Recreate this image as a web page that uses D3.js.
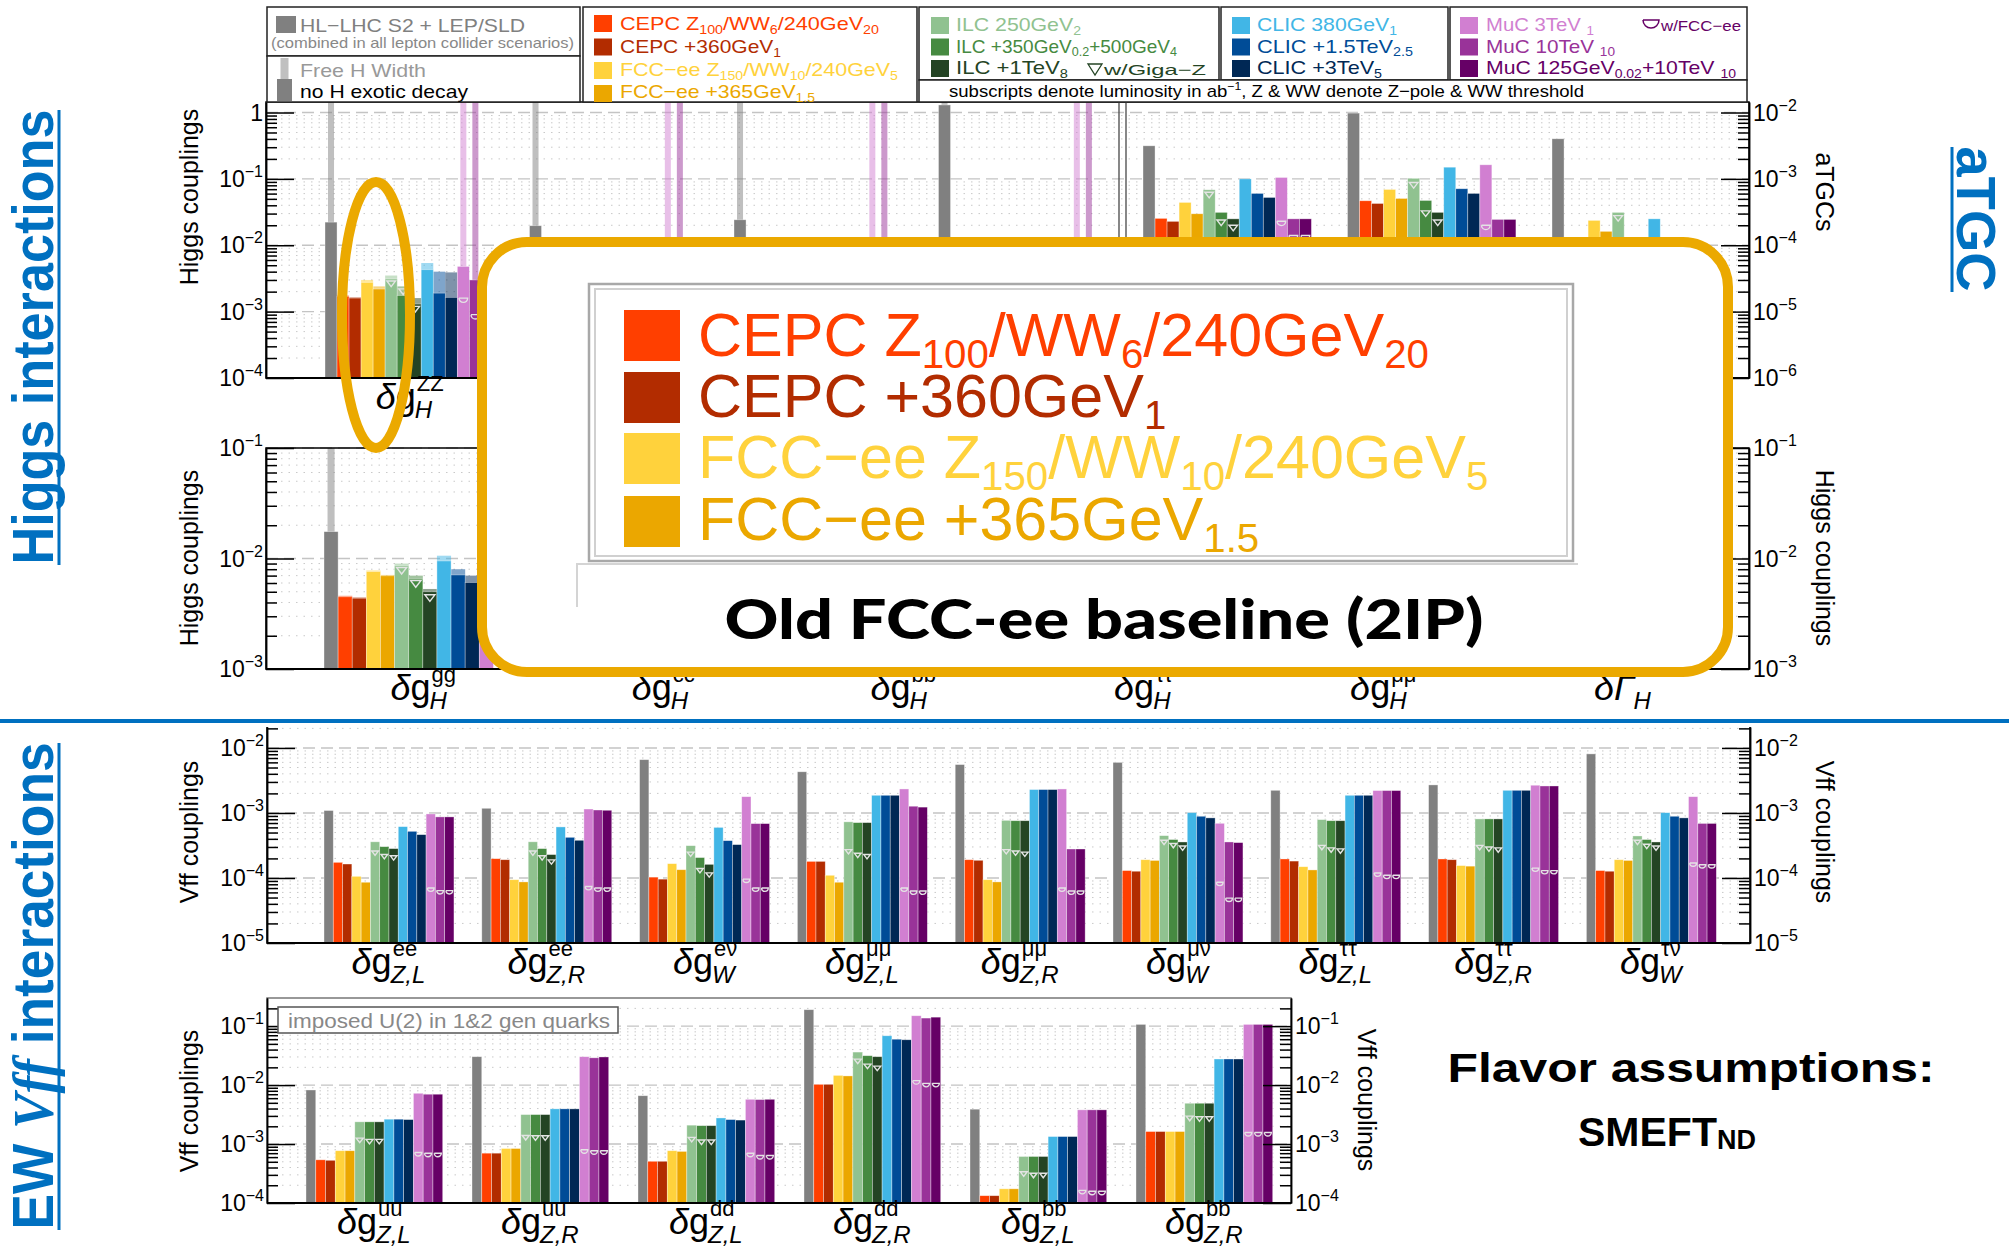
<!DOCTYPE html>
<meta charset="utf-8">
<script src="https://d3js.org/d3.v7.min.js"></script>
<style>
  body { margin: 0; background: #fff; }
  svg { display: block; }
</style>
<body>
<div id="chart"></div>
<script>
var _ = null;

// ---------- series (one bar per collider scenario, same order in every group) ----------
var seriesColors = ["#808080", "#ff3f00", "#b22c00", "#ffd23c", "#eba700", "#90c290", "#468a41", "#244424",
                    "#41b6e6", "#004c97", "#002855", "#d17fd1", "#993399", "#660066"];
var legendLabels = [
  [["HL−LHC S2 + LEP/SLD"]],
  [["CEPC Z"], ["100", "sub"], ["/WW"], ["6", "sub"], ["/240GeV"], ["20", "sub"]],
  [["CEPC +360GeV"], ["1", "sub"]],
  [["FCC−ee Z"], ["150", "sub"], ["/WW"], ["10", "sub"], ["/240GeV"], ["5", "sub"]],
  [["FCC−ee +365GeV"], ["1.5", "sub"]],
  [["ILC 250GeV"], ["2", "sub"]],
  [["ILC +350GeV"], ["0.2", "sub"], ["+500GeV"], ["4", "sub"]],
  [["ILC +1TeV"], ["8", "sub"]],
  [["CLIC 380GeV"], ["1", "sub"]],
  [["CLIC +1.5TeV"], ["2.5", "sub"]],
  [["CLIC +3TeV"], ["5", "sub"]],
  [["MuC 3TeV "], ["1", "sub"]],
  [["MuC 10TeV "], ["10", "sub"]],
  [["MuC 125GeV"], ["0.02", "sub"], ["+10TeV "], ["10", "sub"]]
];

// ---------- panel 1 : Higgs couplings (left axis) + aTGCs (right axis) ----------
var hig1Labels = [["δg", "ZZ", "H"], ["δg", "WW", "H"], ["δg", "γγ", "H"], ["δg", "Zγ", "H"],
                  ["δg", "", "1,Z"], ["δκ", "", "γ"], ["λ", "", "Z"]];
var hig1Solid = [
  [2.23e-2, 1.7e-3, 1.6e-3, 2.76e-3, 2.19e-3, 3.1e-3, 1.75e-3, 1.3e-3, 4.28e-3, 1.9e-3, 1.64e-3, 4.8e-3, 3.0e-3, 3.0e-3],
  [1.97e-2, _, _, _, _, _, _, _, _, _, _, _, _, _],
  [2.42e-2, _, _, _, _, _, _, _, 1.3e-2, _, _, _, _, _],
  [1.3, _, _, _, _, _, _, _, _, _, _, _, _, _],
  [3.15e-3, 2.54e-4, 2.29e-4, 4.42e-4, 2.98e-4, 6.85e-4, 3.13e-4, 2.5e-4, 1.0e-3, 6.04e-4, 5.25e-4, 1.05e-3, 2.5e-4, 2.5e-4],
  [9.8e-3, 4.68e-4, 4.26e-4, 6.93e-4, 5.07e-4, 1.02e-3, 4.73e-4, 3.13e-4, 1.5e-3, 7.1e-4, 6.04e-4, 1.63e-3, 2.45e-4, 2.45e-4],
  [4.02e-3, _, _, 2.37e-4, 1.62e-4, 3.13e-4, _, _, 2.5e-4, _, _, _, _, _]
];
// "Free H width" fits (lighter bars); the no-exotic-decay fits are the solid ones
var hig1Free = [
  [5, 1.75e-3, 1.65e-3, 3.0e-3, 2.4e-3, 3.5e-3, 2.4e-3, 1.6e-3, 5.4e-3, 4.0e-3, 3.9e-3, 5, 5, _],
  [5, _, _, _, _, _, _, _, _, _, _, 5, 5, _],
  [5, _, _, _, _, _, _, _, _, _, _, 5, 5, _],
  [5, _, _, _, _, _, _, _, _, _, _, 5, 5, _],
  [_, _, _, _, _, _, _, _, _, _, _, _, _, _],
  [_, _, _, _, _, _, _, _, _, _, _, _, _, _],
  [_, _, _, _, _, _, _, _, _, _, _, _, _, _]
];
var hig1GigaZ = [[2.9e-3, 2.2e-3, 1.2e-3], [_, _, _], [_, _, _], [_, _, _], [6.3e-4, 2.4e-4, 2.0e-4], [8.8e-4, 3.3e-4, 2.4e-4], [2.8e-4, _, _]];
var hig1WithFCC = [[1.6e-3, 9.0e-4, _], [_, _, _], [_, _, _], [_, _, _], [2.3e-4, 1.4e-4, 1.4e-4], [2.0e-4, _, _], [_, _, _]];

// ---------- panel 2 : Higgs couplings (most of it is covered by the overlay) ----------
var hig2Labels = [["δg", "gg", "H"], ["δg", "cc", "H"], ["δg", "bb", "H"], ["δg", "ττ", "H"], ["δg", "μμ", "H"], ["δΓ", "", "H"]];
var hig2Solid = [
  [1.75e-2, 4.5e-3, 4.37e-3, 7.6e-3, 6.97e-3, 8.6e-3, 6.5e-3, 5.0e-3, 9.5e-3, 7.1e-3, 6.06e-3, 5.5e-3, _, _],
  [_, _, _, _, _, _, _, _, _, _, _, _, _, _],
  [_, _, _, _, _, _, _, _, _, _, _, _, _, _],
  [_, _, _, _, _, _, _, _, _, _, _, _, _, _],
  [_, _, _, _, _, _, _, _, _, _, _, _, _, _],
  [_, _, _, _, _, _, _, _, _, _, _, _, _, _]
];
var hig2Free = [
  [0.2, 4.6e-3, 4.45e-3, 7.8e-3, 7.1e-3, 9.0e-3, 7.0e-3, 5.3e-3, 1.06e-2, 8.0e-3, 7.0e-3, _, _, _],
  [_, _, _, _, _, _, _, _, _, _, _, _, _, _],
  [_, _, _, _, _, _, _, _, _, _, _, _, _, _],
  [_, _, _, _, _, _, _, _, _, _, _, _, _, _],
  [_, _, _, _, _, _, _, _, _, _, _, _, _, _],
  [_, _, _, _, _, _, _, _, _, _, _, _, _, _]
];
var hig2GigaZ = [[8.3e-3, 6.3e-3, 4.7e-3], [_, _, _], [_, _, _], [_, _, _], [_, _, _], [_, _, _]];
var hig2WithFCC = [[_, _, _], [_, _, _], [_, _, _], [_, _, _], [_, _, _], [_, _, _]];

// ---------- panel 3 : Vff couplings, leptons ----------
var lepLabels = [["δg", "ee", "Z,L"], ["δg", "ee", "Z,R"], ["δg", "eν", "W"], ["δg", "μμ", "Z,L"], ["δg", "μμ", "Z,R"],
                 ["δg", "μν", "W"], ["δg", "ττ", "Z,L"], ["δg", "ττ", "Z,R"], ["δg", "τν", "W"]];
var lepSolid = [
  [1.09e-3, 1.74e-4, 1.64e-4, 1.06e-4, 8.6e-5, 3.6e-4, 3.03e-4, 2.83e-4, 6.16e-4, 5.22e-4, 4.64e-4, 9.66e-4, 8.7e-4, 8.7e-4],
  [1.18e-3, 1.98e-4, 1.91e-4, 9.4e-5, 8.7e-5, 3.6e-4, 2.83e-4, 2.29e-4, 6.1e-4, 4.22e-4, 3.8e-4, 1.15e-3, 1.11e-3, 1.1e-3],
  [6.6e-3, 1.03e-4, 9.6e-5, 1.66e-4, 1.34e-4, 3.14e-4, 2.06e-4, 1.62e-4, 6.0e-4, 3.75e-4, 3.26e-4, 1.78e-3, 6.86e-4, 6.86e-4],
  [4.3e-3, 1.8e-4, 1.8e-4, 1.1e-4, 8.6e-5, 7.3e-4, 7.1e-4, 7.1e-4, 1.87e-3, 1.87e-3, 1.87e-3, 2.34e-3, 1.27e-3, 1.23e-3],
  [5.55e-3, 1.91e-4, 1.87e-4, 9.4e-5, 8.7e-5, 7.7e-4, 7.6e-4, 7.6e-4, 2.29e-3, 2.29e-3, 2.29e-3, 2.34e-3, 2.79e-4, 2.79e-4],
  [6.0e-3, 1.3e-4, 1.27e-4, 1.91e-4, 1.86e-4, 4.48e-4, 3.9e-4, 3.58e-4, 1.01e-3, 8.9e-4, 8.4e-4, 6.93e-4, 3.58e-4, 3.5e-4],
  [2.23e-3, 1.96e-4, 1.82e-4, 1.49e-4, 1.33e-4, 7.9e-4, 7.6e-4, 7.6e-4, 1.87e-3, 1.87e-3, 1.87e-3, 2.21e-3, 2.21e-3, 2.21e-3],
  [2.7e-3, 1.96e-4, 1.91e-4, 1.55e-4, 1.52e-4, 8.1e-4, 8.1e-4, 8.1e-4, 2.23e-3, 2.23e-3, 2.23e-3, 2.67e-3, 2.6e-3, 2.6e-3],
  [8.1e-3, 1.3e-4, 1.27e-4, 1.91e-4, 1.86e-4, 4.43e-4, 3.9e-4, 3.58e-4, 1.01e-3, 8.9e-4, 8.4e-4, 1.78e-3, 6.9e-4, 6.9e-4]
];
var lepGigaZ = [[2.6e-4, 2.3e-4, 2.2e-4], [2.6e-4, 2.2e-4, 1.9e-4], [2.5e-4, 1.4e-4, 1.2e-4], [2.73e-4, 2.4e-4, 2.3e-4],
                [2.73e-4, 2.6e-4, 2.5e-4], [3.8e-4, 3.4e-4, 3.1e-4], [3.17e-4, 2.9e-4, 2.8e-4], [3.17e-4, 3.0e-4, 2.9e-4],
                [3.8e-4, 3.3e-4, 3.1e-4]];
var lepWithFCC = [[7.0e-5, 6.4e-5, 6.4e-5], [7.4e-5, 7.0e-5, 7.0e-5], [9.6e-5, 7.0e-5, 7.0e-5], [7.0e-5, 6.3e-5, 6.3e-5],
                  [7.0e-5, 6.3e-5, 6.3e-5], [8.6e-5, 4.9e-5, 4.9e-5], [1.19e-4, 1.1e-4, 1.1e-4], [1.42e-4, 1.3e-4, 1.3e-4],
                  [1.7e-4, 1.6e-4, 1.6e-4]];

// ---------- panel 4 : Vff couplings, quarks ----------
var qrkLabels = [["δg", "uu", "Z,L"], ["δg", "uu", "Z,R"], ["δg", "dd", "Z,L"], ["δg", "dd", "Z,R"], ["δg", "bb", "Z,L"], ["δg", "bb", "Z,R"]];
var qrkSolid = [
  [8.26e-3, 5.4e-4, 5.3e-4, 7.7e-4, 7.7e-4, 2.38e-3, 2.38e-3, 2.38e-3, 2.64e-3, 2.64e-3, 2.6e-3, 7.26e-3, 7.0e-3, 7.0e-3],
  [3.03e-2, 7.0e-4, 7.0e-4, 8.4e-4, 8.4e-4, 3.16e-3, 3.16e-3, 3.16e-3, 3.95e-3, 3.95e-3, 3.95e-3, 3.03e-2, 2.9e-2, 3.0e-2],
  [6.6e-3, 5.1e-4, 5.1e-4, 7.7e-4, 7.5e-4, 2.09e-3, 2.05e-3, 2.05e-3, 2.77e-3, 2.6e-3, 2.55e-3, 5.74e-3, 5.68e-3, 5.74e-3],
  [1.9e-1, 1.03e-2, 1.03e-2, 1.46e-2, 1.43e-2, 3.63e-2, 3.15e-2, 3.03e-2, 6.86e-2, 6.0e-2, 5.87e-2, 1.5e-1, 1.37e-1, 1.42e-1],
  [3.9e-3, 1.33e-4, 1.33e-4, 1.74e-4, 1.74e-4, 6.15e-4, 6.15e-4, 6.15e-4, 1.34e-3, 1.34e-3, 1.34e-3, 3.8e-3, 3.8e-3, 3.8e-3],
  [1.07e-1, 1.63e-3, 1.63e-3, 1.63e-3, 1.63e-3, 4.92e-3, 4.92e-3, 4.92e-3, 2.77e-2, 2.77e-2, 2.77e-2, 1.07e-1, 1.07e-1, 1.07e-1]
];
var qrkGigaZ = [[1.26e-3, 1.2e-3, 1.2e-3], [1.4e-3, 1.38e-3, 1.38e-3], [1.3e-3, 1.17e-3, 1.17e-3], [2.76e-2, 2.27e-2, 2.1e-2],
                [3.39e-4, 3.2e-4, 3.2e-4], [2.97e-3, 2.9e-3, 2.9e-3]];
var qrkWithFCC = [[7.2e-4, 7.0e-4, 7.0e-4], [8.0e-4, 7.7e-4, 7.7e-4], [7.0e-4, 6.4e-4, 6.4e-4], [1.19e-2, 1.07e-2, 1.07e-2],
                  [1.64e-4, 1.58e-4, 1.58e-4], [1.57e-3, 1.57e-3, 1.57e-3]];

// ====================================================================
var NARROW = '"Liberation Sans Narrow","Liberation Sans",Arial,sans-serif';
var SANS = '"Liberation Sans",Arial,sans-serif';
var BLUE = "#0070c0", ORANGE = "#eba900";

var svg = d3.select("#chart").append("svg")
    .attr("width", 2009).attr("height", 1247)
    .style("font-family", NARROW);

function decades(dom) {
  var out = [];
  for (var e = Math.ceil(Math.log10(dom[0]) - 1e-9); e <= Math.floor(Math.log10(dom[1]) + 1e-9); e++) out.push(Math.pow(10, e));
  return out;
}
function minors(dom) {
  var out = [];
  for (var e = Math.floor(Math.log10(dom[0])); e <= Math.floor(Math.log10(dom[1])); e++)
    for (var k = 2; k <= 9; k++) { var v = k * Math.pow(10, e); if (v > dom[0] && v < dom[1]) out.push(v); }
  return out;
}
// text with sub/superscript pieces
function rich(text, parts, fs) {
  var shift = 0;
  parts.forEach(function(p) {
    var t = text.append("tspan").text(p[0]);
    var target = p[1] === "sub" ? fs * 0.2 : p[1] === "sup" ? -fs * 0.42 : 0;
    if (target !== shift) { t.attr("dy", target - shift); shift = target; }
    if (p[1]) t.attr("font-size", fs * 0.66);
  });
  return text;
}
function powLabel(g, x, y, v, anchor) {
  var e = Math.round(Math.log10(v));
  var t = g.append("text").attr("x", x).attr("y", y + 8).attr("text-anchor", anchor).attr("font-size", 23);
  if (e === 0) t.text("1");
  else { t.append("tspan").text("10"); t.append("tspan").attr("dy", -10).attr("font-size", 16).text("−" + (-e)); }
}
function catLabel(cx, base, lab) {
  var grp = svg.append("g");
  var b = grp.append("text").attr("y", base).attr("font-size", 36);
  b.append("tspan").attr("font-style", "italic").text(lab[0].charAt(0));
  b.append("tspan").attr("font-style", lab[0].charAt(1) === "g" ? "normal" : "italic").text(lab[0].slice(1));
  var bw = b.node().getComputedTextLength();
  var sup = grp.append("text").attr("y", base - 18).attr("font-size", 22).text(lab[1]);
  var sub = grp.append("text").attr("y", base + 9).attr("font-size", 24).attr("font-style", "italic").text(lab[2]);
  var w = bw + Math.max(sup.node().getComputedTextLength(), sub.node().getComputedTextLength());
  var x0 = cx - w / 2;
  b.attr("x", x0); sup.attr("x", x0 + bw + 1); sub.attr("x", x0 + bw - 1);
}
function vTitle(x, y, txt, rot) {
  svg.append("text").attr("transform", "translate(" + x + "," + y + ") rotate(" + rot + ")")
     .attr("text-anchor", "middle").attr("font-size", 25).text(txt);
}

function drawPanel(p) {
  var n = p.labels.length, pad = 3 / 17, r0 = p.start - p.step * pad / 2;
  var x = d3.scaleBand().domain(d3.range(n)).range([r0, r0 + p.step * n]).paddingInner(pad).paddingOuter(pad / 2);
  var xi = d3.scaleBand().domain(d3.range(seriesColors.length)).range([0, x.bandwidth()]);
  var bw = xi.bandwidth();
  var yL = d3.scaleLog().domain(p.yL).range([p.bottom, p.top]).clamp(true);
  var yR = d3.scaleLog().domain(p.yR).range([p.bottom, p.top]).clamp(true);
  var ys = function(gi) { return gi >= p.split ? yR : yL; };
  var g = svg.append("g");

  // grid
  g.append("g").selectAll("line").data(minors(p.yL)).join("line")
    .attr("x1", p.left).attr("x2", p.right).attr("y1", d => yL(d)).attr("y2", d => yL(d))
    .attr("stroke", "#c9c9c9").attr("stroke-dasharray", "1.5,6");
  g.append("g").selectAll("line").data(decades(p.yL)).join("line")
    .attr("x1", p.left).attr("x2", p.right).attr("y1", d => yL(d)).attr("y2", d => yL(d))
    .attr("stroke", "#c4c4c4").attr("stroke-width", 1.4).attr("stroke-dasharray", "12,6");

  // bars
  var rows = [];
  p.solid.forEach(function(arr, gi) {
    arr.forEach(function(v, si) { rows.push({ gi: gi, si: si, v: v, f: p.free ? p.free[gi][si] : null }); });
  });
  var narrow = function(si) { return si === 0 || si >= 11; };
  g.append("g").selectAll("rect").data(rows.filter(d => d.f != null)).join("rect")
    .attr("x", d => x(d.gi) + xi(d.si) + (narrow(d.si) ? bw * 0.25 : 0))
    .attr("width", d => narrow(d.si) ? bw * 0.5 : bw)
    .attr("y", d => ys(d.gi)(d.f))
    .attr("height", d => p.bottom - ys(d.gi)(d.f))
    .attr("fill", d => seriesColors[d.si]).attr("opacity", 0.5);
  g.append("g").selectAll("rect").data(rows.filter(d => d.v != null)).join("rect")
    .attr("x", d => x(d.gi) + xi(d.si))
    .attr("width", bw)
    .attr("y", d => ys(d.gi)(d.v))
    .attr("height", d => p.bottom - ys(d.gi)(d.v))
    .attr("fill", d => seriesColors[d.si])
    .attr("stroke", "#fff").attr("stroke-width", 0.7).attr("stroke-opacity", 0.5);

  // markers: Giga-Z triangles on ILC, FCC-ee cups on MuC
  var mk = [];
  p.gigaz.forEach(function(a, gi) { a.forEach(function(v, k) { if (v != null) mk.push({ gi: gi, si: 5 + k, v: v, t: "tri" }); }); });
  p.withfcc.forEach(function(a, gi) { a.forEach(function(v, k) { if (v != null) mk.push({ gi: gi, si: 11 + k, v: v, t: "cup" }); }); });
  g.append("g").selectAll("path").data(mk).join("path")
    .attr("d", function(d) {
      var cx = x(d.gi) + xi(d.si) + bw / 2, y = ys(d.gi)(d.v), h = Math.min(bw * 0.36, 6);
      return d.t === "tri"
        ? "M" + (cx - h) + "," + y + "H" + (cx + h) + "L" + cx + "," + (y + h * 1.3) + "Z"
        : "M" + (cx - h) + "," + y + "H" + (cx + h) + "A" + h + "," + h + " 0 0 1 " + (cx - h) + "," + y;
    })
    .attr("fill", "none").attr("stroke", "#e4e4e4").attr("stroke-width", 1.4);

  // frame & axes
  var fr = "M" + p.left + "," + p.top + "V" + p.bottom + "H" + p.right + "V" + p.top + (p.noTop ? "" : "Z");
  g.append("path").attr("d", fr).attr("fill", "none").attr("stroke", p.frame || "#000").attr("stroke-width", 1.5);
  g.append("line").attr("x1", p.left).attr("x2", p.right).attr("y1", p.bottom).attr("y2", p.bottom)
    .attr("stroke", "#000").attr("stroke-width", 2);
  var aL = g.append("g").attr("transform", "translate(" + p.left + ",0)");
  aL.call(d3.axisLeft(yL).tickValues(decades(p.yL)).tickSize(-28).tickSizeOuter(0).tickFormat(""));
  aL.append("g").call(d3.axisLeft(yL).tickValues(minors(p.yL)).tickSize(-11).tickSizeOuter(0).tickFormat(""));
  var aR = g.append("g").attr("transform", "translate(" + p.right + ",0)");
  aR.call(d3.axisRight(yR).tickValues(decades(p.yR)).tickSize(-28).tickSizeOuter(0).tickFormat(""));
  aR.append("g").call(d3.axisRight(yR).tickValues(minors(p.yR)).tickSize(-11).tickSizeOuter(0).tickFormat(""));
  g.selectAll(".tick line").attr("stroke-width", 1.5);
  g.selectAll(".domain").attr("stroke-width", 1.5);

  decades(p.yL).forEach(function(v) { powLabel(g, p.left - 3, yL(v), v, "end"); });
  decades(p.yR).forEach(function(v) { powLabel(g, p.right + 4, yR(v), v, "start"); });

  p.labels.forEach(function(lab, gi) { catLabel(x(gi) + x.bandwidth() / 2, p.bottom + 31, lab); });
  return { x: x, yL: yL, yR: yR };
}

// ---------------- panels ----------------
drawPanel({ labels: hig1Labels, solid: hig1Solid, free: hig1Free, gigaz: hig1GigaZ, withfcc: hig1WithFCC,
  left: 266, right: 1749, top: 102, bottom: 378, start: 325, step: 204.5, yL: [1e-4, 1.44], yR: [1e-6, 1.44e-2], split: 4 });
svg.append("g").selectAll("line").data([1119, 1126]).join("line")
  .attr("x1", d => d).attr("x2", d => d).attr("y1", 102).attr("y2", 378).attr("stroke", "#555").attr("stroke-width", 1.4);

drawPanel({ labels: hig2Labels, solid: hig2Solid, free: hig2Free, gigaz: hig2GigaZ, withfcc: hig2WithFCC,
  left: 266, right: 1749, top: 448, bottom: 669, start: 324, step: 240, yL: [1e-3, 1e-1], yR: [1e-3, 1e-1], split: 99 });

drawPanel({ labels: lepLabels, solid: lepSolid, free: null, gigaz: lepGigaZ, withfcc: lepWithFCC,
  left: 267, right: 1750, top: 727, bottom: 943, start: 324, step: 157.8, yL: [1e-5, 2.1e-2], yR: [1e-5, 2.1e-2], split: 99, noTop: true });

drawPanel({ labels: qrkLabels, solid: qrkSolid, free: null, gigaz: qrkGigaZ, withfcc: qrkWithFCC,
  left: 267, right: 1291, top: 998, bottom: 1203, start: 306, step: 166, yL: [1e-4, 0.3], yR: [1e-4, 0.3], split: 99, frame: "#777" });

// U(2) note
svg.append("rect").attr("x", 278).attr("y", 1007).attr("width", 340).attr("height", 26)
  .attr("fill", "#fff").attr("stroke", "#555").attr("stroke-width", 1.5);
svg.append("text").attr("x", 288).attr("y", 1028).attr("font-size", 21).attr("fill", "#888")
  .attr("textLength", 322).attr("lengthAdjust", "spacingAndGlyphs").text("imposed U(2) in 1&2 gen quarks");

// axis titles
vTitle(198, 197, "Higgs couplings", -90);
vTitle(1816, 192, "aTGCs", 90);
vTitle(198, 558, "Higgs couplings", -90);
vTitle(1816, 558, "Higgs couplings", 90);
vTitle(198, 832, "Vff couplings", -90);
vTitle(1816, 832, "Vff couplings", 90);
vTitle(198, 1101, "Vff couplings", -90);
vTitle(1358, 1100, "Vff couplings", 90);

// ---------------- legend ----------------
var lg = svg.append("g");
[[267, 7, 313, 49], [267, 56, 313, 46], [583, 7, 334, 95], [919, 7, 300, 73], [1221, 7, 227, 73], [1450, 7, 297, 73], [919, 80, 828, 22]]
  .forEach(function(r) {
    lg.append("rect").attr("x", r[0]).attr("y", r[1]).attr("width", r[2]).attr("height", r[3])
      .attr("fill", "#fff").attr("stroke", "#222").attr("stroke-width", 1.5);
  });
// [swatch x, swatch y, text x, baseline, text width]
var legendPos = [
  [276, 16, 300, 32, 225],
  [594, 15, 620, 30, 259], [594, 38.5, 620, 53, 161], [594, 62, 620, 76, 278], [594, 85, 620, 98, 195],
  [931, 17, 956, 31, 125], [931, 38.5, 956, 52.5, 221], [931, 60, 956, 74, 112],
  [1232, 17, 1257, 31, 140], [1232, 38.5, 1257, 52.5, 156], [1232, 60, 1257, 74, 125],
  [1460, 17, 1486, 31, 108], [1460, 38.5, 1486, 52.5, 129], [1460, 60, 1486, 74, 250]
];
legendLabels.forEach(function(lab, si) {
  var p = legendPos[si];
  lg.append("rect").attr("x", p[0]).attr("y", p[1]).attr("width", si === 0 ? 20 : 18).attr("height", 17)
    .attr("fill", seriesColors[si]);
  var t = lg.append("text").attr("x", p[2]).attr("y", p[3]).attr("font-size", 19)
    .attr("fill", si === 0 ? "#808080" : seriesColors[si])
    .attr("textLength", p[4]).attr("lengthAdjust", "spacingAndGlyphs");
  rich(t, lab, 19);
});
lg.append("text").attr("x", 271).attr("y", 48).attr("font-size", 15).attr("fill", "#888")
  .attr("textLength", 303).attr("lengthAdjust", "spacingAndGlyphs").text("(combined in all lepton collider scenarios)");
lg.append("rect").attr("x", 280.5).attr("y", 58).attr("width", 8).attr("height", 22).attr("fill", "#c0c0c0");
lg.append("rect").attr("x", 277).attr("y", 79).attr("width", 15).attr("height", 22).attr("fill", "#808080");
lg.append("text").attr("x", 300).attr("y", 77).attr("font-size", 19).attr("fill", "#999")
  .attr("textLength", 126).attr("lengthAdjust", "spacingAndGlyphs").text("Free H Width");
lg.append("text").attr("x", 300).attr("y", 98).attr("font-size", 19).attr("fill", "#000")
  .attr("textLength", 168).attr("lengthAdjust", "spacingAndGlyphs").text("no H exotic decay");
lg.append("path").attr("d", "M1088,64H1102L1095,75Z").attr("fill", "none").attr("stroke", "#244424").attr("stroke-width", 1.3);
lg.append("text").attr("x", 1104).attr("y", 75).attr("font-size", 15).attr("fill", "#244424")
  .attr("textLength", 102).attr("lengthAdjust", "spacingAndGlyphs").text("w/Giga−Z");
lg.append("path").attr("d", "M1643,20H1659A8,8 0 0 1 1643,20").attr("fill", "none").attr("stroke", "#660066").attr("stroke-width", 1.5);
lg.append("text").attr("x", 1661).attr("y", 31).attr("font-size", 15).attr("fill", "#660066")
  .attr("textLength", 80).attr("lengthAdjust", "spacingAndGlyphs").text("w/FCC−ee");
var sn = lg.append("text").attr("x", 949).attr("y", 97).attr("font-size", 17).attr("fill", "#000")
  .attr("textLength", 635).attr("lengthAdjust", "spacingAndGlyphs");
rich(sn, [["subscripts denote luminosity in ab"], ["−1", "sup"], [",   Z & WW denote Z−pole & WW threshold"]], 17);

// ---------------- section labels ----------------
svg.append("line").attr("x1", 0).attr("x2", 2009).attr("y1", 721).attr("y2", 721).attr("stroke", BLUE).attr("stroke-width", 4);
svg.append("text").attr("transform", "translate(53,337) rotate(-90)").attr("text-anchor", "middle")
  .attr("font-size", 58).attr("font-weight", "bold").attr("fill", BLUE)
  .attr("textLength", 455).attr("lengthAdjust", "spacingAndGlyphs").text("Higgs interactions");
svg.append("line").attr("x1", 59).attr("x2", 59).attr("y1", 110).attr("y2", 565).attr("stroke", BLUE).attr("stroke-width", 3);
var ew = svg.append("text").attr("transform", "translate(53,986) rotate(-90)").attr("text-anchor", "middle")
  .attr("font-size", 58).attr("font-weight", "bold").attr("fill", BLUE)
  .attr("textLength", 487).attr("lengthAdjust", "spacingAndGlyphs");
ew.append("tspan").text("EW ");
ew.append("tspan").attr("font-style", "italic").attr("font-family", '"Liberation Serif",serif').text("Vff");
ew.append("tspan").text(" interactions");
svg.append("line").attr("x1", 59).attr("x2", 59).attr("y1", 743).attr("y2", 1230).attr("stroke", BLUE).attr("stroke-width", 3);
svg.append("text").attr("transform", "translate(1957,219) rotate(90)").attr("text-anchor", "middle")
  .attr("font-size", 56).attr("font-weight", "bold").attr("fill", BLUE)
  .attr("textLength", 145).attr("lengthAdjust", "spacingAndGlyphs").text("aTGC");
svg.append("line").attr("x1", 1952).attr("x2", 1952).attr("y1", 147).attr("y2", 292).attr("stroke", BLUE).attr("stroke-width", 3);

svg.append("text").attr("x", 1691).attr("y", 1082).attr("text-anchor", "middle").attr("font-size", 41)
  .attr("font-weight", "bold").attr("textLength", 487).attr("lengthAdjust", "spacingAndGlyphs").text("Flavor assumptions:");
var sm = svg.append("text").attr("x", 1578).attr("y", 1146).attr("font-size", 41).attr("font-weight", "bold");
sm.append("tspan").text("SMEFT");
sm.append("tspan").attr("font-size", 27).attr("dy", 3).text("ND");

// ---------------- highlight ellipse & overlay ----------------
svg.append("ellipse").attr("cx", 376).attr("cy", 315).attr("rx", 34).attr("ry", 133)
  .attr("fill", "none").attr("stroke", ORANGE).attr("stroke-width", 10);

var ov = svg.append("g");
ov.append("rect").attr("x", 482).attr("y", 242).attr("width", 1246).attr("height", 430).attr("rx", 45)
  .attr("fill", "#fff").attr("stroke", ORANGE).attr("stroke-width", 10);
ov.append("rect").attr("x", 589).attr("y", 284).attr("width", 984).attr("height", 277)
  .attr("fill", "none").attr("stroke", "#a8a8a8").attr("stroke-width", 2.5);
ov.append("rect").attr("x", 595).attr("y", 289).attr("width", 972).attr("height", 267)
  .attr("fill", "none").attr("stroke", "#d0d0d0").attr("stroke-width", 2);
ov.append("path").attr("d", "M577,607V564H1578").attr("fill", "none").attr("stroke", "#d4d4d4").attr("stroke-width", 2);
// [swatch y, baseline] for the four enlarged legend rows
var overlayRows = [[310, 356], [372, 417], [433, 478], [496, 540]];
overlayRows.forEach(function(r, k) {
  var si = k + 1;
  ov.append("rect").attr("x", 624).attr("y", r[0]).attr("width", 56).attr("height", 51).attr("fill", seriesColors[si]);
  var t = ov.append("text").attr("x", 698).attr("y", r[1]).attr("font-size", 61).attr("font-family", SANS)
    .attr("fill", seriesColors[si]);
  rich(t, legendLabels[si], 61);
});
ov.append("text").attr("x", 1104).attr("y", 639).attr("text-anchor", "middle").attr("font-size", 56)
  .attr("font-family", 'Lato,"Liberation Sans",sans-serif').attr("font-weight", 900)
  .attr("textLength", 759).attr("lengthAdjust", "spacingAndGlyphs").text("Old FCC-ee baseline (2IP)");
</script>
</body>
